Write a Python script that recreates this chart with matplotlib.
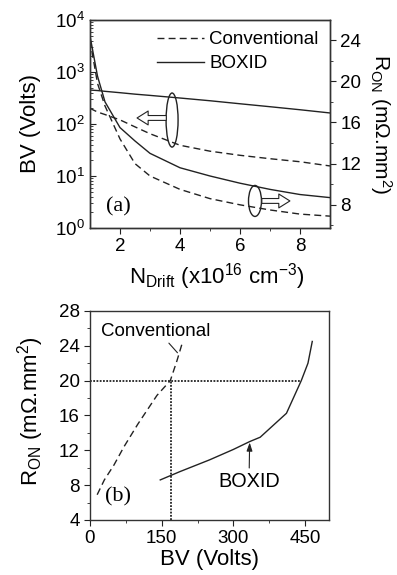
import matplotlib
matplotlib.use('Agg')
import matplotlib.pyplot as plt
from matplotlib.patches import Ellipse
from matplotlib.ticker import MultipleLocator, LogLocator, NullFormatter, FixedLocator

plt.rcParams['font.family'] = ['Liberation Sans', 'DejaVu Sans']
plt.rcParams['mathtext.fontset'] = 'custom'
plt.rcParams['mathtext.rm'] = 'Liberation Sans'
plt.rcParams['mathtext.it'] = 'Liberation Sans:italic'
plt.rcParams['mathtext.bf'] = 'Liberation Sans:bold'

# --- panel (a): BV and R_ON versus drift doping ---
n_drift = [1.0, 1.25, 1.5, 2.0, 2.5, 3.0, 4.0, 5.0, 6.0, 7.0, 8.0, 9.0]
bv_boxid = [450, 440, 425, 400, 375, 355, 316, 280, 245, 215, 188, 163]
bv_conv = [200, 170, 152, 120, 88, 65, 39, 30, 25, 21.5, 18.8, 15.6]
ron_boxid = [24.4, 20.5, 18.0, 15.5, 14.2, 13.0, 11.6, 10.8, 10.1, 9.5, 9.0, 8.7]
ron_conv = [24.0, 19.8, 17.6, 14.4, 12.0, 10.8, 9.5, 8.6, 8.0, 7.5, 7.1, 6.9]

# --- panel (b): R_ON versus BV ---
bv_conv_b = [15, 30, 50, 71, 100, 140, 168, 182, 194]
ron_conv_b = [6.9, 8.6, 10.3, 12.4, 15.0, 18.3, 20.0, 22.3, 24.5]
bv_boxid_b = [147, 188, 250, 300, 334, 356, 411, 442, 456, 465]
ron_boxid_b = [8.6, 9.55, 10.9, 12.1, 13.0, 13.5, 16.25, 20.0, 22.0, 24.5]
ron_target = 20
bv_conv_target = 170
bv_boxid_target = 442

ink = '#222222'
tick_fs = 13.5
label_fs = 16

fig = plt.figure(figsize=(3.97, 5.75), dpi=100)
ax = fig.add_axes([0.2267, 0.6035, 0.6045, 0.3617])
ax2 = ax.twinx()

ax.plot(n_drift, bv_conv, ls=(0, (5, 3)), color=ink, lw=1.0, label='Conventional')
ax.plot(n_drift, bv_boxid, ls='-', color=ink, lw=1.0, label='BOXID')
ax2.plot(n_drift, ron_conv, ls=(0, (5, 3)), color=ink, lw=1.0)
ax2.plot(n_drift, ron_boxid, ls='-', color=ink, lw=1.0)

ax.set_yscale('log')
ax.set_xlim(1, 9)
ax.set_ylim(1, 1e4)
ax2.set_ylim(5.75, 25.95)
ax.xaxis.set_major_locator(FixedLocator([2, 4, 6, 8]))
ax.xaxis.set_minor_locator(FixedLocator([3, 5, 7]))
ax.yaxis.set_major_locator(LogLocator(base=10, numticks=10))
ax.yaxis.set_minor_locator(LogLocator(base=10, subs=range(2, 10), numticks=50))
ax.yaxis.set_minor_formatter(NullFormatter())
ax2.yaxis.set_major_locator(MultipleLocator(4))
ax2.yaxis.set_minor_locator(MultipleLocator(2))

ax.tick_params(axis='y', which='both', direction='in', labelsize=tick_fs, color=ink)
ax.tick_params(axis='y', which='major', length=4)
ax.tick_params(axis='y', which='minor', length=2.5)
ax.tick_params(axis='x', which='both', direction='out', labelsize=tick_fs, color=ink)
ax.tick_params(axis='x', which='major', length=4)
ax.tick_params(axis='x', which='minor', length=2.5)
ax2.tick_params(axis='y', which='both', direction='out', labelsize=tick_fs, color=ink)
ax2.tick_params(axis='y', which='major', length=4)
ax2.tick_params(axis='y', which='minor', length=2.5)
for a in (ax, ax2):
    for s in a.spines.values():
        s.set_color('#333333')
        s.set_linewidth(1.0)

ax.set_ylabel('BV (Volts)', fontsize=label_fs, ha='center', va='center')
ax.yaxis.set_label_coords(-0.25, 0.5)
ax.set_xlabel('N$_{\\mathrm{Drift}}$ (x10$^{16}$ cm$^{-3}$)', fontsize=label_fs,
              ha='center', va='center')
ax.xaxis.set_label_coords(0.53, -0.235)
ax2.set_ylabel('R$_{\\mathrm{ON}}$ (mΩ.mm$^{2}$)', fontsize=15, rotation=270,
               ha='center', va='center')
ax2.yaxis.set_label_coords(1.212, 0.5)

ax.legend(loc='upper right', frameon=False, fontsize=tick_fs, handlelength=2.5,
          handletextpad=0.3, labelspacing=0.35, borderaxespad=0.2,
          bbox_to_anchor=(1.0, 1.0))

ax.text(0.117, 0.10, '(a)', transform=ax.transAxes, fontsize=16,
        family='Liberation Serif', ha='center', va='center')

# grouping ellipses with hollow arrows
ax.add_patch(Ellipse((0.342, 0.519), 0.05, 0.26, transform=ax.transAxes,
                     fill=False, ec=ink, lw=1.0))
ax.add_patch(Ellipse((0.6875, 0.13), 0.054, 0.149, transform=ax.transAxes,
                     fill=False, ec=ink, lw=1.0))
hollow = dict(arrowstyle='simple,head_width=1.0,head_length=0.8,tail_width=0.35',
              fc='white', ec=ink, lw=0.8, shrinkA=0, shrinkB=0)
ax.annotate('', xy=(0.196, 0.529), xytext=(0.318, 0.529),
            xycoords='axes fraction', textcoords='axes fraction', arrowprops=hollow)
ax.annotate('', xy=(0.833, 0.13), xytext=(0.716, 0.13),
            xycoords='axes fraction', textcoords='axes fraction', arrowprops=hollow)

# --- panel (b) ---
bx = fig.add_axes([0.2267, 0.0957, 0.602, 0.3635])
bx.plot(bv_conv_b, ron_conv_b, ls=(0, (5, 3)), color=ink, lw=1.0)
bx.plot(bv_boxid_b, ron_boxid_b, ls='-', color=ink, lw=1.0)
bx.plot([0, bv_boxid_target], [ron_target, ron_target], ls=(0, (1, 0.8)), color=ink, lw=1.3)
bx.plot([bv_conv_target, bv_conv_target], [4, ron_target], ls=(0, (1, 0.8)), color=ink, lw=1.3)

bx.set_xlim(0, 500)
bx.set_ylim(4, 28)
bx.xaxis.set_major_locator(FixedLocator([0, 150, 300, 450]))
bx.xaxis.set_minor_locator(FixedLocator([75, 225, 375]))
bx.yaxis.set_major_locator(MultipleLocator(4))
bx.yaxis.set_minor_locator(MultipleLocator(2))
bx.tick_params(which='both', direction='out', labelsize=tick_fs, color=ink)
bx.tick_params(which='major', length=4)
bx.tick_params(which='minor', length=2.5)
for s in bx.spines.values():
    s.set_color('#333333')
    s.set_linewidth(1.0)

bx.set_xlabel('BV (Volts)', fontsize=label_fs, ha='center', va='center')
bx.xaxis.set_label_coords(0.498, -0.19)
bx.set_ylabel('R$_{\\mathrm{ON}}$ (mΩ.mm$^{2}$)', fontsize=label_fs, ha='center', va='center')
bx.yaxis.set_label_coords(-0.25, 0.52)

bx.text(0.117, 0.11, '(b)', transform=bx.transAxes, fontsize=16,
        family='Liberation Serif', ha='center', va='center')

bx.annotate('Conventional', xy=(183, 23.2), xytext=(137, 25.6), fontsize=tick_fs,
            ha='center', va='center',
            arrowprops=dict(arrowstyle='-', color=ink, lw=0.8, shrinkA=0, shrinkB=0,
                            relpos=(0.6, 0.0)))
bx.annotate('BOXID', xy=(334, 12.9), xytext=(333, 8.4), fontsize=14.3,
            ha='center', va='center',
            arrowprops=dict(arrowstyle='-|>,head_width=0.12,head_length=0.35', color=ink,
                            lw=0.8, shrinkA=1, shrinkB=0, relpos=(0.5, 1.0)))

fig.savefig('out.png', dpi=100)
